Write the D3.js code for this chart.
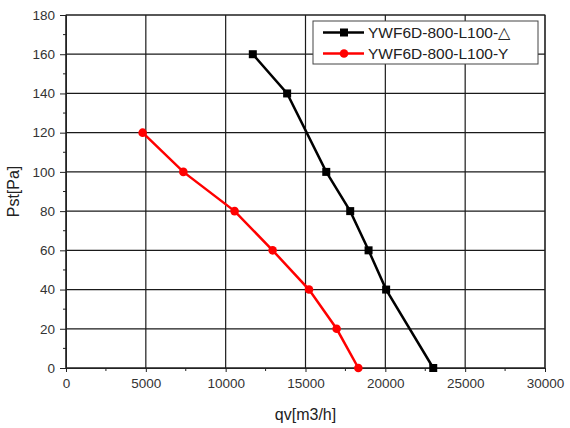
<!DOCTYPE html>
<html>
<head>
<meta charset="utf-8">
<script src="https://cdn.jsdelivr.net/npm/d3@7"></script>
<style>
  body { margin: 0; background: #fff; }
  svg { display: block; font-family: Arial, "Liberation Sans", sans-serif; }
</style>
</head>
<body>
<svg id="chart" width="570" height="428"></svg>
<script>
// fan curves, qv [m3/h] vs Pst [Pa]
const deltaQv = [11700, 13850, 16300, 17800, 18950, 20050, 23000];
const deltaPst = [160, 140, 100, 80, 60, 40, 0];
const starQv = [4800, 7350, 10560, 12940, 15220, 16950, 18310];
const starPst = [120, 100, 80, 60, 40, 20, 0];
const seriesNames = ["YWF6D-800-L100-\u25B3", "YWF6D-800-L100-Y"];
const xTicks = [0, 5000, 10000, 15000, 20000, 25000, 30000];
const yTicks = [0, 20, 40, 60, 80, 100, 120, 140, 160, 180];

const width = 570, height = 428;
const margin = { top: 15, right: 25, bottom: 60, left: 66 };

const svg = d3.select("#chart");

const x = d3.scaleLinear().domain([0, 30000]).range([margin.left, width - margin.right]);
const y = d3.scaleLinear().domain([0, 180]).range([height - margin.bottom, margin.top]);

// grid
svg.append("g")
  .selectAll("line")
  .data(xTicks)
  .join("line")
  .attr("x1", d => x(d)).attr("x2", d => x(d))
  .attr("y1", y(0)).attr("y2", y(180))
  .attr("stroke", "#1a1a1a").attr("stroke-width", 1.2);

svg.append("g")
  .selectAll("line")
  .data(yTicks)
  .join("line")
  .attr("x1", x(0)).attr("x2", x(30000))
  .attr("y1", d => y(d)).attr("y2", d => y(d))
  .attr("stroke", "#1a1a1a").attr("stroke-width", 1.2);

// axes
const xAxis = svg.append("g")
  .attr("transform", `translate(0,${y(0)})`)
  .call(d3.axisBottom(x).tickValues(xTicks).tickSize(4).tickPadding(6).tickFormat(d3.format("d")));
const yAxis = svg.append("g")
  .attr("transform", `translate(${x(0)},0)`)
  .call(d3.axisLeft(y).tickValues(yTicks).tickSize(6).tickPadding(5));

// minor ticks
xAxis.selectAll(".minor")
  .data(d3.range(2500, 30000, 5000))
  .join("line")
  .attr("x1", d => x(d)).attr("x2", d => x(d))
  .attr("y1", 0).attr("y2", 3)
  .attr("stroke", "#222");
yAxis.selectAll(".minor")
  .data(d3.range(10, 180, 20))
  .join("line")
  .attr("y1", d => y(d)).attr("y2", d => y(d))
  .attr("x1", 0).attr("x2", -3)
  .attr("stroke", "#222");

[xAxis, yAxis].forEach(g => {
  g.select(".domain").attr("stroke", "#222");
  g.selectAll(".tick line").attr("stroke", "#222");
  g.selectAll("text").attr("font-size", 13.5).attr("fill", "#333")
    .attr("font-family", "Arial, 'Liberation Sans', sans-serif");
});

// frame
svg.append("rect")
  .attr("x", x(0)).attr("y", y(180))
  .attr("width", x(30000) - x(0)).attr("height", y(0) - y(180))
  .attr("fill", "none").attr("stroke", "#222");

// axis titles
svg.append("text")
  .attr("x", (x(0) + x(30000)) / 2).attr("y", 420)
  .attr("text-anchor", "middle").attr("font-size", 16).attr("fill", "#222")
  .text("qv[m3/h]");
svg.append("text")
  .attr("transform", `translate(19,${(y(0) + y(180)) / 2}) rotate(-90)`)
  .attr("text-anchor", "middle").attr("font-size", 16).attr("fill", "#222")
  .text("Pst[Pa]");

const line = d3.line().x(d => x(d[0])).y(d => y(d[1]));
const blackData = d3.zip(deltaQv, deltaPst);
const redData = d3.zip(starQv, starPst);

svg.append("path").datum(redData)
  .attr("fill", "none").attr("stroke", "#f00").attr("stroke-width", 2.5)
  .attr("d", line);
svg.append("g").selectAll("circle").data(redData).join("circle")
  .attr("cx", d => x(d[0])).attr("cy", d => y(d[1])).attr("r", 4.3)
  .attr("fill", "#f00");

svg.append("path").datum(blackData)
  .attr("fill", "none").attr("stroke", "#000").attr("stroke-width", 2.5)
  .attr("d", line);
svg.append("g").selectAll("rect").data(blackData).join("rect")
  .attr("x", d => x(d[0]) - 4).attr("y", d => y(d[1]) - 4)
  .attr("width", 8).attr("height", 8).attr("fill", "#000");

// legend
const legend = svg.append("g").attr("transform", "translate(313,21)");
legend.append("rect")
  .attr("width", 225).attr("height", 43)
  .attr("fill", "#fff").attr("stroke", "#444");
const colors = ["#000", "#f00"];
seriesNames.forEach((name, i) => {
  const row = legend.append("g").attr("transform", `translate(0,${11.5 + i * 21})`);
  row.append("line").attr("x1", 10).attr("x2", 51)
    .attr("stroke", colors[i]).attr("stroke-width", 2.5);
  if (i === 0) {
    row.append("rect").attr("x", 27).attr("y", -4).attr("width", 8).attr("height", 8).attr("fill", "#000");
  } else {
    row.append("circle").attr("cx", 31).attr("r", 4.3).attr("fill", "#f00");
  }
  row.append("text").attr("x", 55).attr("y", 5.5)
    .attr("font-size", 15.5).attr("fill", "#222")
    .text(name);
});
</script>
</body>
</html>
